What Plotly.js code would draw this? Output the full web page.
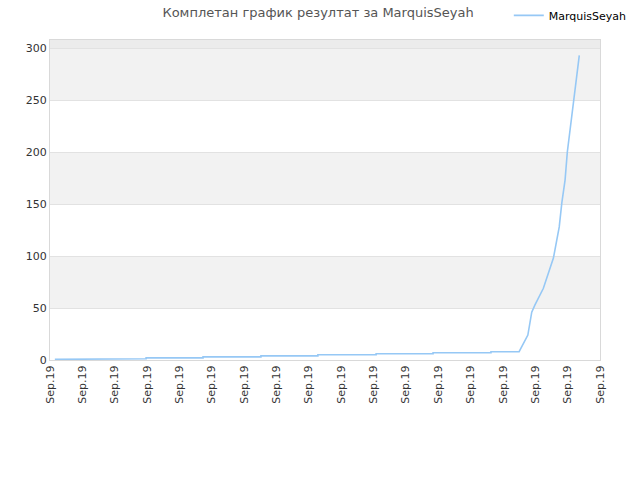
<!DOCTYPE html>
<html>
<head>
<meta charset="utf-8">
<script src="https://cdn.plot.ly/plotly-3.0.1.min.js"></script>
<style>
  html, body { margin: 0; padding: 0; background: #fff; }
  #chart { width: 640px; height: 480px; }
</style>
</head>
<body>
<div id="chart"></div>
<script>
// x positions are in "tick units": tick i sits at x = i, every tick reads Sep.19
var tickCount = 18;
var tickLabel = 'Sep.19';
var playerName = 'MarquisSeyah';

// cumulative score (flat steps first, then the final climb)
var xPos = [0.15, 1.17, 1.17, 2.97, 2.97, 4.73, 4.73, 6.52, 6.52, 8.28, 8.28, 10.08, 10.08, 11.84, 11.84, 13.63, 13.63,
            14.50, 14.77, 14.89, 14.99, 15.25, 15.56, 15.74, 15.82, 15.92, 15.99, 16.19, 16.36];
var scores = [0.6, 0.6, 1.2, 1.2, 2, 2, 3, 3, 4, 4, 5, 5, 6, 6, 7, 7, 8,
              8, 24, 46, 53, 69, 98, 128, 151, 173, 200, 250, 293];

var yTicks = [0, 50, 100, 150, 200, 250, 300];

var tickVals = [];
var tickText = [];
for (var i = 0; i < tickCount; i++) {
	tickVals.push(i);
	tickText.push(tickLabel);
}

// alternating grey bands behind the grid
var yTop = 307.7;
var shapes = [];
for (var b = 1; b < yTicks.length; b++) {
	if (b % 2 == 0) continue;
	shapes.push({
		type: 'rect', xref: 'paper', yref: 'y', layer: 'below',
		x0: 0, x1: 1, y0: yTicks[b], y1: (b == yTicks.length - 1) ? yTop : yTicks[b + 1],
		fillcolor: '#f2f2f2', line: {width: 0}
	});
}
shapes.push({
	type: 'rect', xref: 'paper', yref: 'y', layer: 'below',
	x0: 0, x1: 1, y0: yTicks[yTicks.length - 1], y1: yTop,
	fillcolor: '#ececec', line: {width: 0}
});

var data = [{
	x: xPos,
	y: scores,
	type: 'scatter',
	mode: 'lines',
	name: playerName,
	line: {color: 'rgb(150,200,245)', width: 1.6},
	hoverinfo: 'skip'
}];

var layout = {
	width: 640,
	height: 480,
	margin: {l: 50, r: 40, t: 40, b: 120, autoexpand: false},
	paper_bgcolor: '#ffffff',
	plot_bgcolor: '#ffffff',
	font: {family: 'DejaVu Sans, sans-serif', size: 11, color: '#333'},
	title: {
		text: 'Комплетан график резултат за ' + playerName,
		font: {family: 'DejaVu Sans, sans-serif', size: 13, color: '#555'},
		x: 0.497, xanchor: 'center', y: 0.975, yanchor: 'middle'
	},
	showlegend: true,
	legend: {
		xref: 'container', yref: 'container',
		x: 0.795, xanchor: 'left', y: 0.968, yanchor: 'middle',
		bgcolor: 'rgba(0,0,0,0)',
		font: {family: 'DejaVu Sans, sans-serif', size: 11, color: '#000'},
		itemwidth: 30
	},
	xaxis: {
		range: [0, tickCount - 1],
		tickmode: 'array',
		tickvals: tickVals,
		ticktext: tickText,
		tickangle: -90,
		showgrid: false,
		zeroline: false,
		showline: true,
		mirror: true,
		linecolor: '#d9d9d9',
		linewidth: 1,
		tickfont: {size: 11, color: '#333'},
		fixedrange: true
	},
	yaxis: {
		range: [0, yTop],
		tickmode: 'array',
		tickvals: yTicks,
		showgrid: true,
		gridcolor: '#e2e2e2',
		zeroline: false,
		showline: true,
		mirror: true,
		linecolor: '#d9d9d9',
		linewidth: 1,
		tickfont: {size: 11, color: '#333'},
		fixedrange: true
	},
	shapes: shapes
};

Plotly.newPlot('chart', data, layout, {displayModeBar: false, staticPlot: true});
</script>
</body>
</html>
